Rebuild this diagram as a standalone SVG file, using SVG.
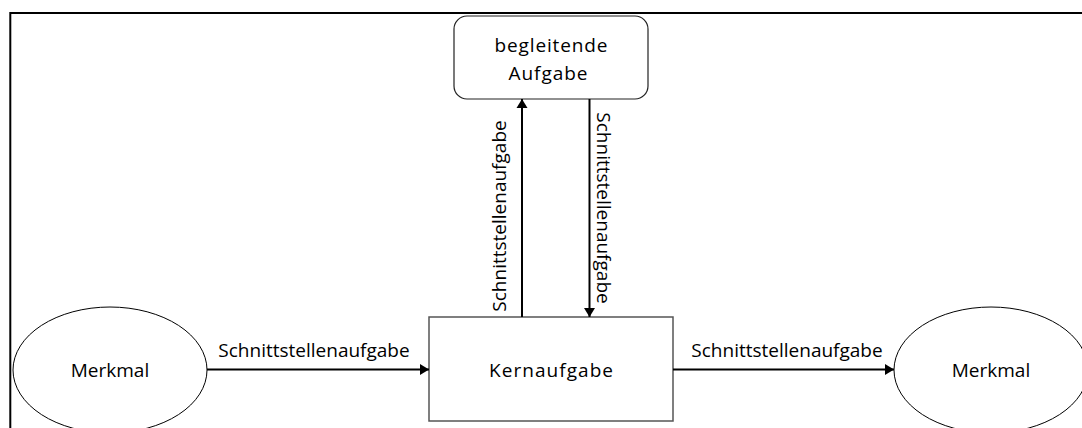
<svg xmlns="http://www.w3.org/2000/svg" width="1082" height="428" viewBox="0 0 1082 428">
  <style>
    .lbl { font-family: "Open Sans", "Liberation Sans", sans-serif; font-size: 19px; fill: #000; }
    .node-ellipse { fill: #fff; stroke: #000; stroke-width: 1; }
    .node-rect { fill: #fff; stroke: #555; stroke-width: 1.5; }
    .node-round { fill: #fff; stroke: #222; stroke-width: 1.2; }
    .conn { fill: none; stroke: #000; stroke-width: 2; }
  </style>
  <defs>
    <marker id="arrow" markerUnits="userSpaceOnUse" markerWidth="10" markerHeight="12" refX="9" refY="6" orient="auto">
      <path d="M0,0.5 L9,6 L0,11.5 z" fill="#000"/>
    </marker>
  </defs>
  <rect x="0" y="0" width="1082" height="428" fill="#fff"/>
  <path d="M10.3,428 V13 H1082" fill="none" stroke="#000" stroke-width="2"/>

  <g id="merkmal-left">
    <ellipse class="node-ellipse" cx="110" cy="370" rx="97" ry="63"/>
    <text class="lbl" x="110" y="377" text-anchor="middle">Merkmal</text>
  </g>
  <g id="merkmal-right">
    <ellipse class="node-ellipse" cx="991" cy="370" rx="97" ry="63"/>
    <text class="lbl" x="991" y="377" text-anchor="middle">Merkmal</text>
  </g>
  <g id="kernaufgabe">
    <rect class="node-rect" x="429" y="317" width="244" height="104"/>
    <text class="lbl" x="551" y="377" text-anchor="middle" textLength="124">Kernaufgabe</text>
  </g>
  <g id="begleitende-aufgabe">
    <rect class="node-round" x="454" y="16" width="194" height="83" rx="13" ry="13"/>
    <text class="lbl" x="551" y="52" text-anchor="middle" textLength="113">begleitende</text>
    <text class="lbl" x="548" y="80" text-anchor="middle" textLength="79">Aufgabe</text>
  </g>

  <g id="connectors">
    <line class="conn" x1="207" y1="369.5" x2="429" y2="369.5" marker-end="url(#arrow)"/>
    <text class="lbl" x="314" y="357" text-anchor="middle">Schnittstellenaufgabe</text>
    <line class="conn" x1="673" y1="369.5" x2="894" y2="369.5" marker-end="url(#arrow)"/>
    <text class="lbl" x="787" y="357" text-anchor="middle">Schnittstellenaufgabe</text>
    <line class="conn" x1="522" y1="317" x2="522" y2="99" marker-end="url(#arrow)"/>
    <text class="lbl" transform="translate(506,216) rotate(-90)" text-anchor="middle">Schnittstellenaufgabe</text>
    <line class="conn" x1="589.5" y1="99" x2="589.5" y2="317" marker-end="url(#arrow)"/>
    <text class="lbl" transform="translate(597,208) rotate(90)" text-anchor="middle">Schnittstellenaufgabe</text>
  </g>
</svg>
